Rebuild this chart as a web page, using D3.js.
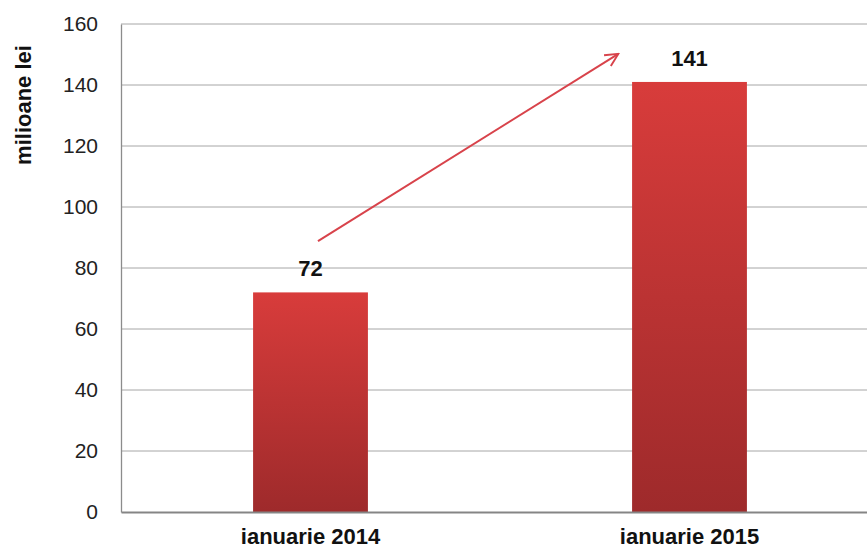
<!DOCTYPE html>
<html>
<head>
<meta charset="utf-8">
<script src="https://cdn.jsdelivr.net/npm/d3@7"></script>
<style>
  body { margin: 0; background: #fff; }
  .tick text { font-family: "Liberation Sans", Arial, sans-serif; }
</style>
</head>
<body>
<svg id="chart" width="867" height="550"></svg>
<script>
// data
var categories = ['ianuarie 2014', 'ianuarie 2015'];
var values = [72, 141];
var yTicks = [0, 20, 40, 60, 80, 100, 120, 140, 160];
var yLabel = 'milioane lei';
// growth arrow: [category index, offset in bar widths, value]
var arrowFrom = [0, 0.565, 88.8];
var arrowTo = [1, -0.12, 150.2];

var svg = d3.select('#chart');
var plotLeft = 121, plotRight = 879, plotTop = 24, plotBottom = 512;
var font = '"Liberation Sans", Arial, sans-serif';

var x = d3.scaleBand()
    .domain(categories)
    .range([plotLeft, plotRight])
    .paddingInner(0.697)
    .paddingOuter(0.3485);
var y = d3.scaleLinear().domain([0, 160]).range([plotBottom, plotTop]);

// gradient for the bars
var defs = svg.append('defs');
var grad = defs.append('linearGradient')
    .attr('id', 'barGrad')
    .attr('x1', 0).attr('y1', 0).attr('x2', 0).attr('y2', 1);
grad.append('stop').attr('offset', '0%').attr('stop-color', '#d83c3b');
grad.append('stop').attr('offset', '100%').attr('stop-color', '#9e2a2b');

var marker = defs.append('marker')
    .attr('id', 'arrowHead')
    .attr('viewBox', '0 0 20 20')
    .attr('refX', 18).attr('refY', 10)
    .attr('markerWidth', 16).attr('markerHeight', 16)
    .attr('markerUnits', 'userSpaceOnUse')
    .attr('orient', 'auto');
marker.append('path')
    .attr('d', 'M2,2 L18,10 L2,18')
    .attr('fill', 'none')
    .attr('stroke', '#d8434b')
    .attr('stroke-width', 2.4);

// gridlines
svg.append('g')
    .selectAll('line')
    .data(yTicks.filter(function(d) { return d > 0; }))
    .enter().append('line')
    .attr('x1', plotLeft).attr('x2', 867)
    .attr('y1', function(d) { return y(d); })
    .attr('y2', function(d) { return y(d); })
    .attr('stroke', '#a6a6a6')
    .attr('stroke-width', 1);

// y axis
var yAxis = svg.append('g')
    .attr('transform', 'translate(' + plotLeft + ',0)')
    .call(d3.axisLeft(y).tickValues(yTicks).tickSize(0).tickPadding(23));
yAxis.select('.domain').attr('stroke', '#8c8c8c').attr('stroke-width', 1.3);
yAxis.selectAll('.tick text').attr('font-size', 21).attr('fill', '#222');

// bars
svg.append('g')
    .selectAll('rect')
    .data(values)
    .enter().append('rect')
    .attr('x', function(d, i) { return x(categories[i]); })
    .attr('width', x.bandwidth())
    .attr('y', function(d) { return y(d); })
    .attr('height', function(d) { return y(0) - y(d); })
    .attr('fill', 'url(#barGrad)');

// x axis
var xAxis = svg.append('g')
    .attr('transform', 'translate(0,' + plotBottom + ')')
    .call(d3.axisBottom(x).tickSize(0).tickPadding(16));
xAxis.select('.domain').attr('stroke', '#858585').attr('stroke-width', 1.8);
xAxis.selectAll('.tick text')
    .attr('font-size', 22)
    .attr('font-weight', 'bold')
    .attr('fill', '#111');

// value labels
svg.append('g')
    .selectAll('text')
    .data(values)
    .enter().append('text')
    .attr('x', function(d, i) { return x(categories[i]) + x.bandwidth() / 2; })
    .attr('y', function(d) { return y(d) - 16; })
    .attr('text-anchor', 'middle')
    .attr('font-family', font)
    .attr('font-size', 22)
    .attr('font-weight', 'bold')
    .attr('fill', '#111')
    .text(function(d) { return d; });

// y axis title
svg.append('text')
    .attr('transform', 'translate(31,105) rotate(-90)')
    .attr('text-anchor', 'middle')
    .attr('font-family', font)
    .attr('font-size', 22)
    .attr('font-weight', 'bold')
    .attr('fill', '#111')
    .text(yLabel);

// arrow
function arrowX(p) { return x(categories[p[0]]) + x.bandwidth() * p[1]; }
svg.append('line')
    .attr('x1', arrowX(arrowFrom))
    .attr('y1', y(arrowFrom[2]))
    .attr('x2', arrowX(arrowTo))
    .attr('y2', y(arrowTo[2]))
    .attr('stroke', '#d8434b')
    .attr('stroke-width', 2)
    .attr('marker-end', 'url(#arrowHead)');
</script>
</body>
</html>
